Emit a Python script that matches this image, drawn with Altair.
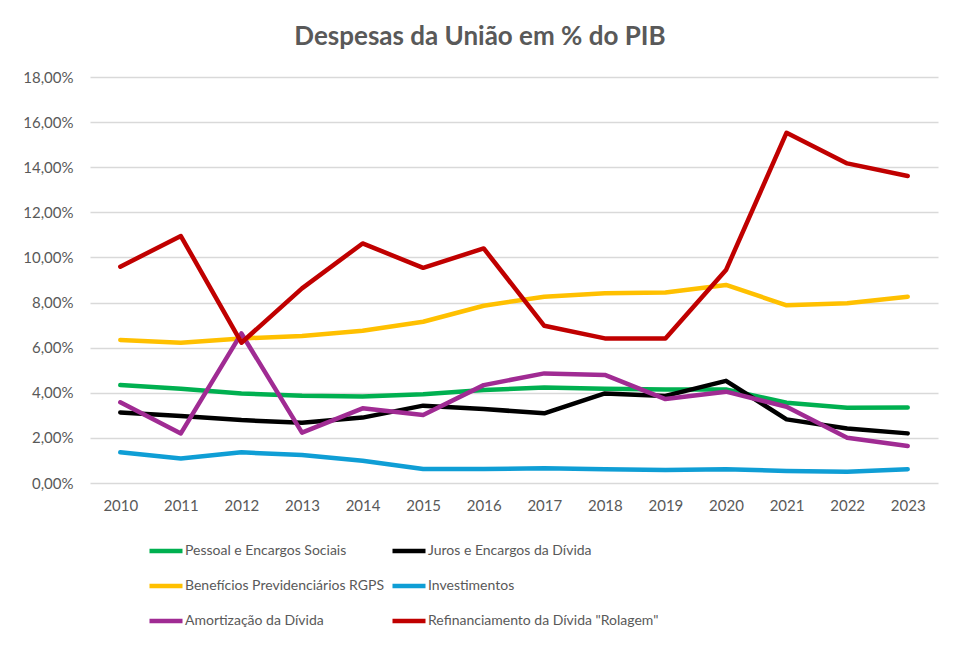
import altair as alt
import pandas as pd

years = list(range(2010, 2024))
series_names = [
    "Pessoal e Encargos Sociais",
    "Juros e Encargos da Dívida",
    "Benefícios Previdenciários RGPS",
    "Investimentos",
    "Amortização da Dívida",
    'Refinanciamento da Dívida "Rolagem"',
]
pessoal = [4.34, 4.18, 3.97, 3.87, 3.83, 3.94, 4.12, 4.23, 4.18, 4.15, 4.15, 3.56, 3.34, 3.35]
juros = [3.13, 2.97, 2.79, 2.67, 2.90, 3.43, 3.28, 3.09, 3.97, 3.86, 4.53, 2.82, 2.42, 2.20]
beneficios = [6.34, 6.22, 6.41, 6.52, 6.75, 7.15, 7.86, 8.26, 8.41, 8.45, 8.78, 7.88, 7.97, 8.26]
investimentos = [1.36, 1.09, 1.36, 1.24, 0.99, 0.62, 0.62, 0.65, 0.61, 0.58, 0.61, 0.53, 0.50, 0.61]
amortizacao = [3.58, 2.20, 6.63, 2.23, 3.31, 3.01, 4.34, 4.86, 4.79, 3.72, 4.05, 3.38, 2.01, 1.64]
refinanciamento = [9.59, 10.95, 6.22, 8.63, 10.62, 9.54, 10.40, 6.97, 6.41, 6.41, 9.44, 15.53, 14.17, 13.61]
colors = ["#00B050", "#000000", "#FFC000", "#0F9ED5", "#A02B93", "#C00000"]
y_ticks = [0, 2, 4, 6, 8, 10, 12, 14, 16, 18]
# legend fills column by column: order entries so the grid reads row by row
legend_order = [0, 2, 4, 1, 3, 5]

all_values = [pessoal, juros, beneficios, investimentos, amortizacao, refinanciamento]
rows = []
for name, vals in zip(series_names, all_values):
    for yr, v in zip(years, vals):
        rows.append({"Ano": str(yr), "Série": name, "Valor": v})
df = pd.DataFrame(rows)

legend_domain = [series_names[i] for i in legend_order]
legend_range = [colors[i] for i in legend_order]

FONT = "Lato"
GRAY = "#595959"

chart = (
    alt.Chart(df)
    .mark_line(strokeWidth=4.5, strokeCap="round", strokeJoin="round")
    .encode(
        x=alt.X(
            "Ano:O",
            scale=alt.Scale(type="point", padding=0.5),
            axis=alt.Axis(
                title=None, labelAngle=0, ticks=False, domain=False,
                labelPadding=15, labelFontSize=15, labelColor=GRAY, labelFont=FONT,
            ),
        ),
        y=alt.Y(
            "Valor:Q",
            scale=alt.Scale(domain=[0, 18], nice=False),
            axis=alt.Axis(
                title=None, values=y_ticks, ticks=False, domain=False,
                labelExpr="replace(format(datum.value, '.2f'), '.', ',') + '%'",
                labelPadding=17, labelFontSize=15, labelColor=GRAY, labelFont=FONT,
                gridColor="#d9d9d9", gridWidth=1.3,
            ),
        ),
        color=alt.Color(
            "Série:N",
            scale=alt.Scale(domain=legend_domain, range=legend_range),
            legend=alt.Legend(
                title=None, orient="none", legendX=57, legendY=455, columns=2,
                symbolType="stroke", symbolSize=1090, symbolStrokeWidth=4.5,
                labelFontSize=14, labelColor=GRAY, labelFont=FONT, labelLimit=500,
                labelOffset=0, rowPadding=7, columnPadding=-2,
            ),
        ),
        order=alt.Order("Ano:O"),
    )
    .properties(
        width=848,
        height=406,
        padding={"left": 82, "top": 69, "right": 14, "bottom": 156},
        autosize=alt.AutoSizeParams(type="none"),
        title=alt.TitleParams(
            "Despesas da União em % do PIB",
            fontSize=26, fontWeight="bold", color=GRAY, font=FONT,
            anchor="middle", dx=-34, offset=20,
        ),
    )
    .configure_view(stroke=None)
)

chart.save("out.html", embed_options={"renderer": "svg", "actions": False})
